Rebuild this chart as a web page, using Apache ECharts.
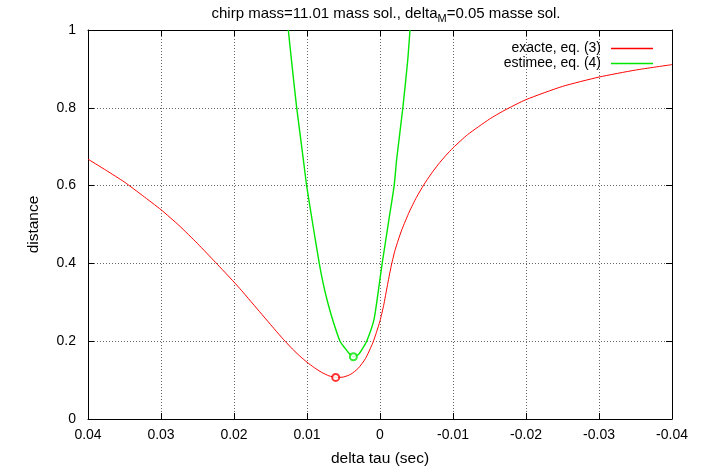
<!DOCTYPE html>
<html>
<head>
<meta charset="utf-8">
<script src="https://cdn.jsdelivr.net/npm/echarts@6/dist/echarts.min.js"></script>
<style>
  html, body { margin: 0; padding: 0; background: #fff; }
  #chart { width: 715px; height: 472px; }
</style>
</head>
<body>
<div id="chart"></div>
<script>
// courbe exacte, eq. (3)
const redX = [0.04, 0.0375, 0.035, 0.0325, 0.03, 0.0275, 0.025, 0.0225, 0.02, 0.019, 0.018, 0.0165,
  0.015, 0.014, 0.013, 0.012, 0.011, 0.01, 0.009, 0.008, 0.007, 0.006, 0.005, 0.004, 0.003, 0.002,
  0.001, 0.0005, 0, -0.0005, -0.001, -0.0015, -0.002, -0.0025, -0.003, -0.004, -0.005, -0.006, -0.007,
  -0.008, -0.009, -0.01, -0.012, -0.015, -0.017, -0.02, -0.025, -0.03, -0.035, -0.04]
const redY = [0.668, 0.639, 0.609, 0.574, 0.538, 0.497, 0.451, 0.402, 0.352, 0.331, 0.309, 0.276,
  0.243, 0.221, 0.2, 0.18, 0.162, 0.146, 0.132, 0.12, 0.111, 0.107, 0.108, 0.115, 0.13, 0.155,
  0.195, 0.222, 0.252, 0.292, 0.342, 0.39, 0.43, 0.46, 0.487, 0.532, 0.57, 0.602, 0.63,
  0.655, 0.677, 0.697, 0.731, 0.771, 0.793, 0.821, 0.855, 0.879, 0.897, 0.911]

// courbe estimee, eq. (4)
const greenX = [0.01256, 0.012, 0.01141, 0.0105, 0.01005, 0.0092, 0.00832, 0.0078, 0.00717, 0.0064,
  0.00548, 0.0048, 0.00434, 0.00365, 0.003, 0.0025, 0.00182, 0.00082, 0, -0.0003, -0.0012, -0.00194,
  -0.00228, -0.00313, -0.0038, -0.00411]
const greenY = [1.0, 0.9, 0.8, 0.667, 0.6, 0.5, 0.4, 0.35, 0.3, 0.25,
  0.2, 0.182, 0.171, 0.16, 0.165, 0.178, 0.2, 0.256, 0.36, 0.4, 0.51, 0.6,
  0.667, 0.8, 0.923, 1.0]

// minima
const redMin = [0.00607, 0.107]
const greenMin = [0.00365, 0.16]

const seriesNames = ['exacte, eq. (3)', 'estimee, eq. (4)']

const FONT = 'Liberation Sans'
const pairs = (xs, ys) => xs.map((x, i) => [x, ys[i]])
const fmtX = v => (Math.abs(v) < 1e-9 ? '0' : String(+v.toFixed(2)))

const chart = echarts.init(document.getElementById('chart'))

const frameLine = { show: true, onZero: false, lineStyle: { color: '#000', width: 1 } }
const tickIn = { show: true, inside: true, length: 6, lineStyle: { color: '#000' } }
const dotted = { show: true, lineStyle: { color: '#666', type: [1, 2], width: 1 } }

chart.setOption({
  animation: false,
  textStyle: { fontFamily: FONT },
  title: {
    text: '{t|chirp mass=11.01 mass sol., delta}{s|M}{t|=0.05 masse sol.}',
    left: 381, top: -1, textAlign: 'center',
    textStyle: {
      fontWeight: 'normal',
      rich: {
        t: { fontFamily: FONT, fontSize: 15, fontWeight: 'normal', color: '#000' },
        s: { fontFamily: FONT, fontSize: 11, fontWeight: 'normal', color: '#000', verticalAlign: 'bottom', padding: [9, 0, 0, 0] }
      }
    }
  },
  legend: {
    data: seriesNames,
    orient: 'vertical',
    align: 'right',
    right: 57, top: 36,
    itemGap: 0,
    itemWidth: 42, itemHeight: 1.5,
    icon: 'rect',
    textStyle: { fontFamily: FONT, fontSize: 14, lineHeight: 15, color: '#000', padding: [0, 5, 0, 0] }
  },
  grid: { left: 88, right: 43, top: 30, bottom: 52 },
  xAxis: [{
    type: 'value', inverse: true, min: -0.04, max: 0.04, interval: 0.01,
    name: 'delta tau (sec)', nameLocation: 'middle', nameGap: 32,
    nameTextStyle: { fontFamily: FONT, fontSize: 15.5, color: '#000' },
    axisLine: frameLine, axisTick: tickIn, splitLine: dotted,
    axisLabel: { formatter: fmtX, fontFamily: FONT, fontSize: 14, color: '#000', margin: 9 }
  }, {
    type: 'value', inverse: true, min: -0.04, max: 0.04, interval: 0.01, position: 'top',
    axisLine: frameLine, axisTick: tickIn, splitLine: { show: false }, axisLabel: { show: false }
  }],
  yAxis: [{
    type: 'value', min: 0, max: 1, interval: 0.2,
    name: 'distance', nameLocation: 'middle', nameGap: 46, nameRotate: 90,
    nameTextStyle: { fontFamily: FONT, fontSize: 15.5, color: '#000' },
    axisLine: frameLine, axisTick: tickIn, splitLine: dotted,
    axisLabel: { fontFamily: FONT, fontSize: 14, color: '#000', margin: 12 }
  }, {
    type: 'value', min: 0, max: 1, interval: 0.2, position: 'right',
    axisLine: frameLine, axisTick: tickIn, splitLine: { show: false }, axisLabel: { show: false }
  }],
  series: [{
    name: seriesNames[0], type: 'line', xAxisIndex: 0, yAxisIndex: 0,
    data: pairs(redX, redY), smooth: 0.2, showSymbol: false,
    lineStyle: { color: '#ff0000', width: 1 }, itemStyle: { color: '#ff0000' }
  }, {
    name: seriesNames[1], type: 'line', xAxisIndex: 0, yAxisIndex: 0,
    data: pairs(greenX, greenY), smooth: 0.2, showSymbol: false,
    lineStyle: { color: '#00e600', width: 1.4 }, itemStyle: { color: '#00e600' }
  }, {
    type: 'scatter', xAxisIndex: 0, yAxisIndex: 0, data: [redMin],
    symbol: 'emptyCircle', symbolSize: 7, z: 5,
    itemStyle: { color: '#ff0000', borderColor: '#ff0000', borderWidth: 1 }
  }, {
    type: 'scatter', xAxisIndex: 0, yAxisIndex: 0, data: [greenMin],
    symbol: 'emptyCircle', symbolSize: 7, z: 5,
    itemStyle: { color: '#00e600', borderColor: '#00e600', borderWidth: 1 }
  }]
})
</script>
</body>
</html>
